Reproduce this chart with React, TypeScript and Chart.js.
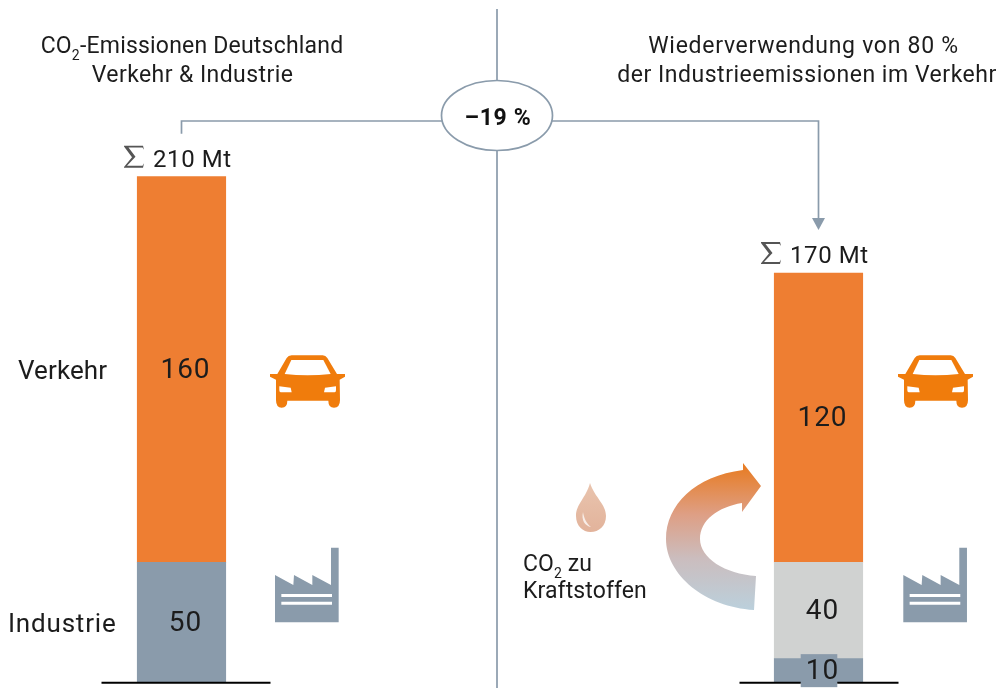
import React, { useEffect, useRef } from "react";
import { Chart, registerables } from "chart.js";

Chart.register(...registerables);

const categories = ["CO2-Emissionen Deutschland", "Wiederverwendung von 80 %"];
const industrie = [50, 10];
const wiederverwendet = [0, 40];
const verkehr = [160, 120];
const totals = ["210 Mt", "170 Mt"];
const rowLabels = ["Verkehr", "Industrie"];
const changeLabel = "–19 %";

const ORANGE = "#EE7E32";
const SLATE = "#8A9BAB";
const LIGHT = "#D0D2D1";
const ICON_ORANGE = "#F07C0C";
const INK = "#1c1c1c";
const FONT = "Roboto, sans-serif";

type Seg = { t: string; sub?: boolean };

function drawRuns(ctx: CanvasRenderingContext2D, runs: Seg[], x: number, y: number, size: number, align: "left" | "center", spacing = 0) {
  ctx.save();
  ctx.fillStyle = INK;
  ctx.textAlign = "left";
  ctx.textBaseline = "alphabetic";
  (ctx as any).letterSpacing = spacing + "px";
  const w = (r: Seg) => {
    ctx.font = `${r.sub ? Math.round(size * 0.6) : size}px ${FONT}`;
    return ctx.measureText(r.t).width;
  };
  const total = runs.reduce((a, r) => a + w(r), 0);
  let cx = align === "center" ? x - total / 2 : x;
  for (const r of runs) {
    const width = w(r);
    ctx.fillText(r.t, cx, r.sub ? y + 7 : y);
    cx += width;
  }
  ctx.restore();
}

const CAR_FULL =
  "M60 102 L82 102 L110 54 Q115 46 125 46 L218 46 Q227 46 232 54 L261 102 L285 102 L285 110 L269 119 L270 180 Q270 203 252 203 Q235 203 235 182 L112 182 Q112 203 95 203 Q78 203 78 180 L78 119 L60 110 Z";
const CAR_WINDOW = "M104 102 L124 60 L220 60 L242 102 Q172 110 104 102 Z";
const CAR_LAMP_L = "M88 139 L122 143 L125 157 L92 157 Q88 157 88 150 Z";
const CAR_LAMP_R = "M258 139 L225 143 L222 157 L254 157 Q258 157 258 150 Z";
const FACTORY = "M45 120 L100 150 L102 120 L157 150 L157 120 L213 150 L213 38 L236 38 L236 262 L45 262 Z";

function drawIcon(ctx: CanvasRenderingContext2D, ox: number, oy: number, paint: (p: (d: string, c: string) => void) => void) {
  ctx.save();
  ctx.translate(ox, oy);
  ctx.scale(1 / 3, 1 / 3);
  paint((d, c) => {
    ctx.fillStyle = c;
    ctx.fill(new Path2D(d));
  });
  ctx.restore();
}

const car = (ctx: CanvasRenderingContext2D, ox: number, oy: number) =>
  drawIcon(ctx, ox, oy, (p) => {
    p(CAR_FULL, ICON_ORANGE);
    p(CAR_WINDOW, "#fff");
    p(CAR_LAMP_L, "#fff");
    p(CAR_LAMP_R, "#fff");
  });

const factory = (ctx: CanvasRenderingContext2D, ox: number, oy: number) =>
  drawIcon(ctx, ox, oy, (p) => {
    p(FACTORY, SLATE);
    p("M64 177 H216 V186 H64 Z", "#fff");
    p("M64 200 H216 V209 H64 Z", "#fff");
  });

const decorPlugin = {
  id: "decor",
  afterDatasetsDraw(chart: any) {
    const ctx: CanvasRenderingContext2D = chart.ctx;
    const xs = chart.scales.x;
    const ys = chart.scales.y;
    const x0 = xs.getPixelForValue(0);
    const x1 = xs.getPixelForValue(1);
    const yZero = ys.getPixelForValue(0);
    const yTop0 = ys.getPixelForValue(industrie[0] + wiederverwendet[0] + verkehr[0]);
    const yTop1 = ys.getPixelForValue(industrie[1] + wiederverwendet[1] + verkehr[1]);

    ctx.save();
    // grey box under the "10" label
    const s10 = chart.getDatasetMeta(0).data[1];
    ctx.fillStyle = SLATE;
    ctx.fillRect(x1 - 17.8, (s10.y + s10.base) / 2 - 16.5, 36.6, 33);

    // baselines
    ctx.strokeStyle = "#000";
    ctx.lineWidth = 2;
    ctx.beginPath();
    ctx.moveTo(x0 - 80, yZero);
    ctx.lineTo(x0 + 89, yZero);
    ctx.moveTo(x1 - 79, yZero);
    ctx.lineTo(x1 - 17.8, yZero);
    ctx.moveTo(x1 + 18.8, yZero);
    ctx.lineTo(x1 + 80, yZero);
    ctx.stroke();

    // divider, connectors
    ctx.strokeStyle = SLATE;
    ctx.lineWidth = 1.7;
    ctx.beginPath();
    ctx.moveTo(497, 9);
    ctx.lineTo(497, 82);
    ctx.moveTo(497, 151);
    ctx.lineTo(497, 688);
    ctx.moveTo(442, 121);
    ctx.lineTo(x0, 121);
    ctx.lineTo(x0, yTop0 - 43);
    ctx.moveTo(552, 121);
    ctx.lineTo(x1, 121);
    ctx.lineTo(x1, yTop1 - 53);
    ctx.stroke();
    ctx.fillStyle = SLATE;
    ctx.beginPath();
    ctx.moveTo(x1 - 6.5, yTop1 - 55);
    ctx.lineTo(x1 + 6.5, yTop1 - 55);
    ctx.lineTo(x1, yTop1 - 43);
    ctx.closePath();
    ctx.fill();

    // ellipse
    ctx.fillStyle = "#fff";
    ctx.beginPath();
    ctx.ellipse(497, 115.5, 55.5, 35, 0, 0, Math.PI * 2);
    ctx.fill();
    ctx.stroke();
    ctx.restore();

    ctx.save();
    ctx.fillStyle = "#111";
    ctx.font = `bold 23px ${FONT}`;
    (ctx as any).letterSpacing = "0.7px";
    ctx.textAlign = "center";
    ctx.textBaseline = "alphabetic";
    ctx.fillText(changeLabel, 498, 125);
    ctx.restore();

    // headings
    drawRuns(ctx, [{ t: "CO" }, { t: "2", sub: true }, { t: "-Emissionen Deutschland" }], 192, 53, 23, "center", 0.2);
    drawRuns(ctx, [{ t: "Verkehr & Industrie" }], 192.5, 82, 23, "center", 0.42);
    drawRuns(ctx, [{ t: "Wiederverwendung von 80 %" }], 803.5, 53, 23, "center", 0.72);
    drawRuns(ctx, [{ t: "der Industrieemissionen im Verkehr" }], 807, 82, 23, "center", 0.53);

    // totals
    [
      { x: x0, top: yTop0, txt: totals[0] },
      { x: x1, top: yTop1, txt: totals[1] },
    ].forEach(({ x, top, txt }) => {
      drawRuns(ctx, [{ t: txt }], x - 28.5, top - 10, 24, "left", 0.6);
      ctx.save();
      ctx.fillStyle = "#555";
      const l = x - 57.5, r = x - 37.5, t = top - 31, b = top - 9;
      const mid = (t + b) / 2;
      ctx.beginPath();
      ctx.moveTo(l, t);
      ctx.lineTo(r - 1, t);
      ctx.lineTo(r, t + 4);
      ctx.lineTo(r - 1.5, t + 1.8);
      ctx.lineTo(l + 4.5, t + 1.8);
      ctx.lineTo(l + 11.5, mid);
      ctx.lineTo(l + 3, b - 2);
      ctx.lineTo(r - 1.5, b - 2);
      ctx.lineTo(r, b - 4.5);
      ctx.lineTo(r - 1, b);
      ctx.lineTo(l, b);
      ctx.lineTo(l, b - 0.8);
      ctx.lineTo(l + 8, mid + 0.5);
      ctx.lineTo(l, t + 0.8);
      ctx.closePath();
      ctx.fill();
      ctx.restore();
    });

    // row labels
    drawRuns(ctx, [{ t: rowLabels[0] }], 18, 379, 26, "left", 0.1);
    drawRuns(ctx, [{ t: rowLabels[1] }], 8, 632, 26, "left", 0.8);

    // bar value labels
    chart.data.datasets.forEach((ds: any, di: number) => {
      chart.getDatasetMeta(di).data.forEach((el: any, i: number) => {
        const v = ds.data[i];
        if (!v) return;
        ctx.save();
        ctx.fillStyle = INK;
        ctx.font = `28px ${FONT}`;
        (ctx as any).letterSpacing = "1px";
        ctx.textAlign = "center";
        ctx.textBaseline = "middle";
        ctx.fillText(String(v), el.x + 4, (el.y + el.base) / 2 + 1.5);
        ctx.restore();
      });
    });

    // icons
    car(ctx, 250, 340);
    car(ctx, 878, 340);
    factory(ctx, 260, 535);
    factory(ctx, 888.3, 535);

    // drop
    const dg = ctx.createLinearGradient(0, 483, 0, 532);
    dg.addColorStop(0, "#E9C4AE");
    dg.addColorStop(1, "#E2B39B");
    ctx.save();
    ctx.fillStyle = dg;
    ctx.beginPath();
    ctx.moveTo(590, 483);
    ctx.bezierCurveTo(586, 498, 576, 504, 576, 516);
    ctx.bezierCurveTo(576, 526, 583, 532, 590.5, 532);
    ctx.bezierCurveTo(599, 532, 606, 526, 606, 516);
    ctx.bezierCurveTo(606, 504, 595, 498, 590, 483);
    ctx.closePath();
    ctx.fill();
    ctx.fillStyle = "rgba(255,255,255,0.75)";
    ctx.beginPath();
    ctx.moveTo(583, 512);
    ctx.bezierCurveTo(581, 520, 585, 526, 591, 527);
    ctx.bezierCurveTo(586, 523, 584, 518, 583, 512);
    ctx.closePath();
    ctx.fill();
    ctx.restore();

    drawRuns(ctx, [{ t: "CO" }, { t: "2", sub: true }, { t: " zu" }], 523, 571, 23, "left", 0.1);
    drawRuns(ctx, [{ t: "Kraftstoffen" }], 523, 598, 23, "left", 0.1);

    // curved arrow
    const ag = ctx.createLinearGradient(0, 463, 0, 610);
    ag.addColorStop(0, "#E87A1E");
    ag.addColorStop(0.35, "#DE9F85");
    ag.addColorStop(0.65, "#CBBDBE");
    ag.addColorStop(1, "#BBD0DC");
    ctx.save();
    ctx.fillStyle = ag;
    ctx.beginPath();
    ctx.moveTo(754, 610);
    ctx.bezierCurveTo(705, 607, 666, 575, 666, 539);
    ctx.bezierCurveTo(666, 505, 695, 476, 743, 470);
    ctx.lineTo(743, 463);
    ctx.lineTo(761, 486);
    ctx.lineTo(742, 512);
    ctx.lineTo(742, 503);
    ctx.bezierCurveTo(718, 507, 700, 520, 700, 539);
    ctx.bezierCurveTo(700, 558, 725, 574, 756, 576);
    ctx.closePath();
    ctx.fill();
    ctx.restore();
  },
};

export default function App() {
  const ref = useRef<HTMLCanvasElement | null>(null);
  useEffect(() => {
    document.body.style.margin = "0";
    const chart = new Chart(ref.current as HTMLCanvasElement, {
      type: "bar",
      data: {
        labels: categories,
        datasets: [
          { label: "Industrie", data: industrie, backgroundColor: SLATE },
          { label: "Wiederverwendung", data: wiederverwendet, backgroundColor: LIGHT },
          { label: "Verkehr", data: verkehr, backgroundColor: ORANGE },
        ],
      },
      options: {
        animation: false,
        responsive: false,
        devicePixelRatio: 1,
        layout: { padding: { left: 181.5, right: 184.5, top: 176.7, bottom: 5.3 } },
        datasets: { bar: { barThickness: 88.5, clip: false as any } },
        plugins: { legend: { display: false }, tooltip: { enabled: false } },
        events: [],
        scales: {
          x: { stacked: true, display: false, offset: false },
          y: { stacked: true, display: false, min: 0, max: 210 },
        },
      },
      plugins: [decorPlugin],
    });
    return () => chart.destroy();
  }, []);
  return (
    <div style={{ width: 1003, height: 688, overflow: "hidden", background: "#fff" }}>
      <canvas ref={ref} width={1003} height={688} style={{ display: "block" }} />
    </div>
  );
}
